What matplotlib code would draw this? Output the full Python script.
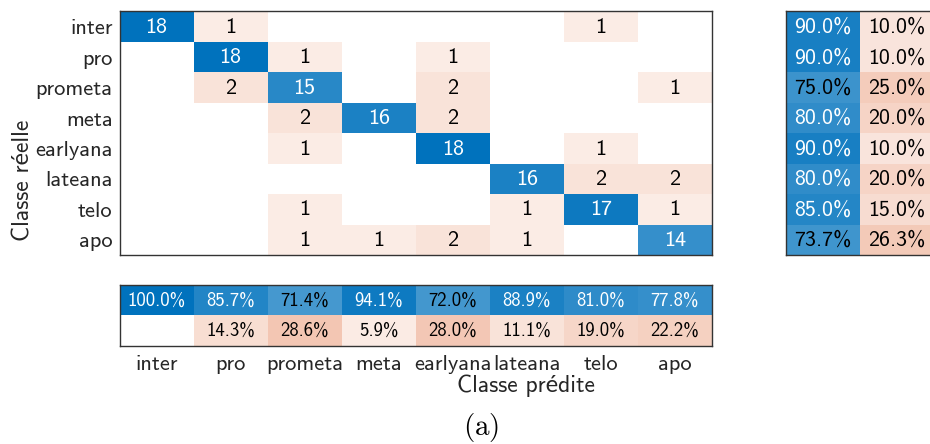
import numpy as np
import matplotlib
matplotlib.use("Agg")
import matplotlib.pyplot as plt

classes = ["inter", "pro", "prometa", "meta", "earlyana", "lateana", "telo", "apo"]
# rows = true class, cols = predicted class
conf = np.array([
    [18, 1, 0, 0, 0, 0, 1, 0],
    [0, 18, 1, 0, 1, 0, 0, 0],
    [0, 2, 15, 0, 2, 0, 0, 1],
    [0, 0, 2, 16, 2, 0, 0, 0],
    [0, 0, 1, 0, 18, 0, 1, 0],
    [0, 0, 0, 0, 0, 16, 2, 2],
    [0, 0, 1, 0, 0, 1, 17, 1],
    [0, 0, 1, 1, 2, 1, 0, 14],
])
row_correct = [90.0, 90.0, 75.0, 80.0, 90.0, 80.0, 85.0, 73.7]
row_wrong = [10.0, 10.0, 25.0, 20.0, 10.0, 20.0, 15.0, 26.3]
col_correct = [100.0, 85.7, 71.4, 94.1, 72.0, 88.9, 81.0, 77.8]
col_wrong = [0.0, 14.3, 28.6, 5.9, 28.0, 11.1, 19.0, 22.2]

xlabel = "Classe prédite"
ylabel = "Classe réelle"
caption = "(a)"

BLUE = np.array([0, 0.447, 0.741])
ORANGE = np.array([0.851, 0.325, 0.098])
FONT = ["cmss10", "Lato", "DejaVu Sans"]
TXT = "#262626"

def blend(base, a):
    return tuple(1 - a * (1 - base))

W, H = 930, 444
fig = plt.figure(figsize=(W / 100, H / 100), dpi=100)

def px_axes(l, t, r, b):
    return fig.add_axes([l / W, 1 - b / H, (r - l) / W, (b - t) / H])

def style(ax, nx, ny):
    ax.set_xlim(0, nx)
    ax.set_ylim(ny, 0)
    ax.set_xticks([])
    ax.set_yticks([])
    for s in ax.spines.values():
        s.set_color("#333333")
        s.set_linewidth(1.0)

def cell(ax, x, y, base, frac, label, fs=12):
    if frac <= 0:
        return
    a = 0.06 + 0.94 * frac
    ax.add_patch(plt.Rectangle((x, y), 1, 1, facecolor=blend(base, a),
                               edgecolor="none"))
    col = "white" if a > 0.78 else "black"
    ax.text(x + 0.5, y + 0.52, label, ha="center", va="center",
            color=col, fontsize=fs, family=FONT)

# main matrix
n = len(classes)
vmax = conf.max()
ax = px_axes(119.5, 11.5, 712, 255)
style(ax, n, n)
for i in range(n):
    for j in range(n):
        v = conf[i, j]
        if v == 0:
            continue
        base = BLUE if i == j else ORANGE
        cell(ax, j, i, base, v / vmax, str(v), fs=16)
ax.set_yticks(np.arange(n) + 0.5)
ax.set_yticklabels(classes, family=FONT, fontsize=16.2, color=TXT)
ax.tick_params(axis="y", length=0, pad=5)

# row summary
axr = px_axes(786, 11.5, 934, 255)
style(axr, 2, n)
for i in range(n):
    cell(axr, 0, i, BLUE, row_correct[i] / 100, f"{row_correct[i]:.1f}%", fs=15.8)
    cell(axr, 1, i, ORANGE, row_wrong[i] / 100, f"{row_wrong[i]:.1f}%", fs=15.8)

# column summary
axc = px_axes(119.5, 285, 712, 345.5)
style(axc, n, 2)
for j in range(n):
    cell(axc, j, 0, BLUE, col_correct[j] / 100, f"{col_correct[j]:.1f}%", fs=13.5)
    cell(axc, j, 1, ORANGE, col_wrong[j] / 100, f"{col_wrong[j]:.1f}%", fs=13.5)
axc.set_xticks(np.arange(n) + 0.5)
axc.set_xticklabels(classes, family=FONT, fontsize=16.2, color=TXT)
axc.tick_params(axis="x", length=0, pad=7)

fig.text(526 / W, 1 - 386 / H, xlabel, ha="center", va="center",
         family=FONT, fontsize=17, color=TXT)
fig.text(23 / W, 1 - 180 / H, ylabel, ha="center", va="center", rotation=90,
         family=FONT, fontsize=17, color=TXT)
plt.rcParams["mathtext.fontset"] = "cm"
fig.text(481 / W, 1 - 427 / H, r"$\mathrm{(a)}$", ha="center", va="center",
         fontsize=21, color="black")

fig.savefig("out.png", dpi=100)
